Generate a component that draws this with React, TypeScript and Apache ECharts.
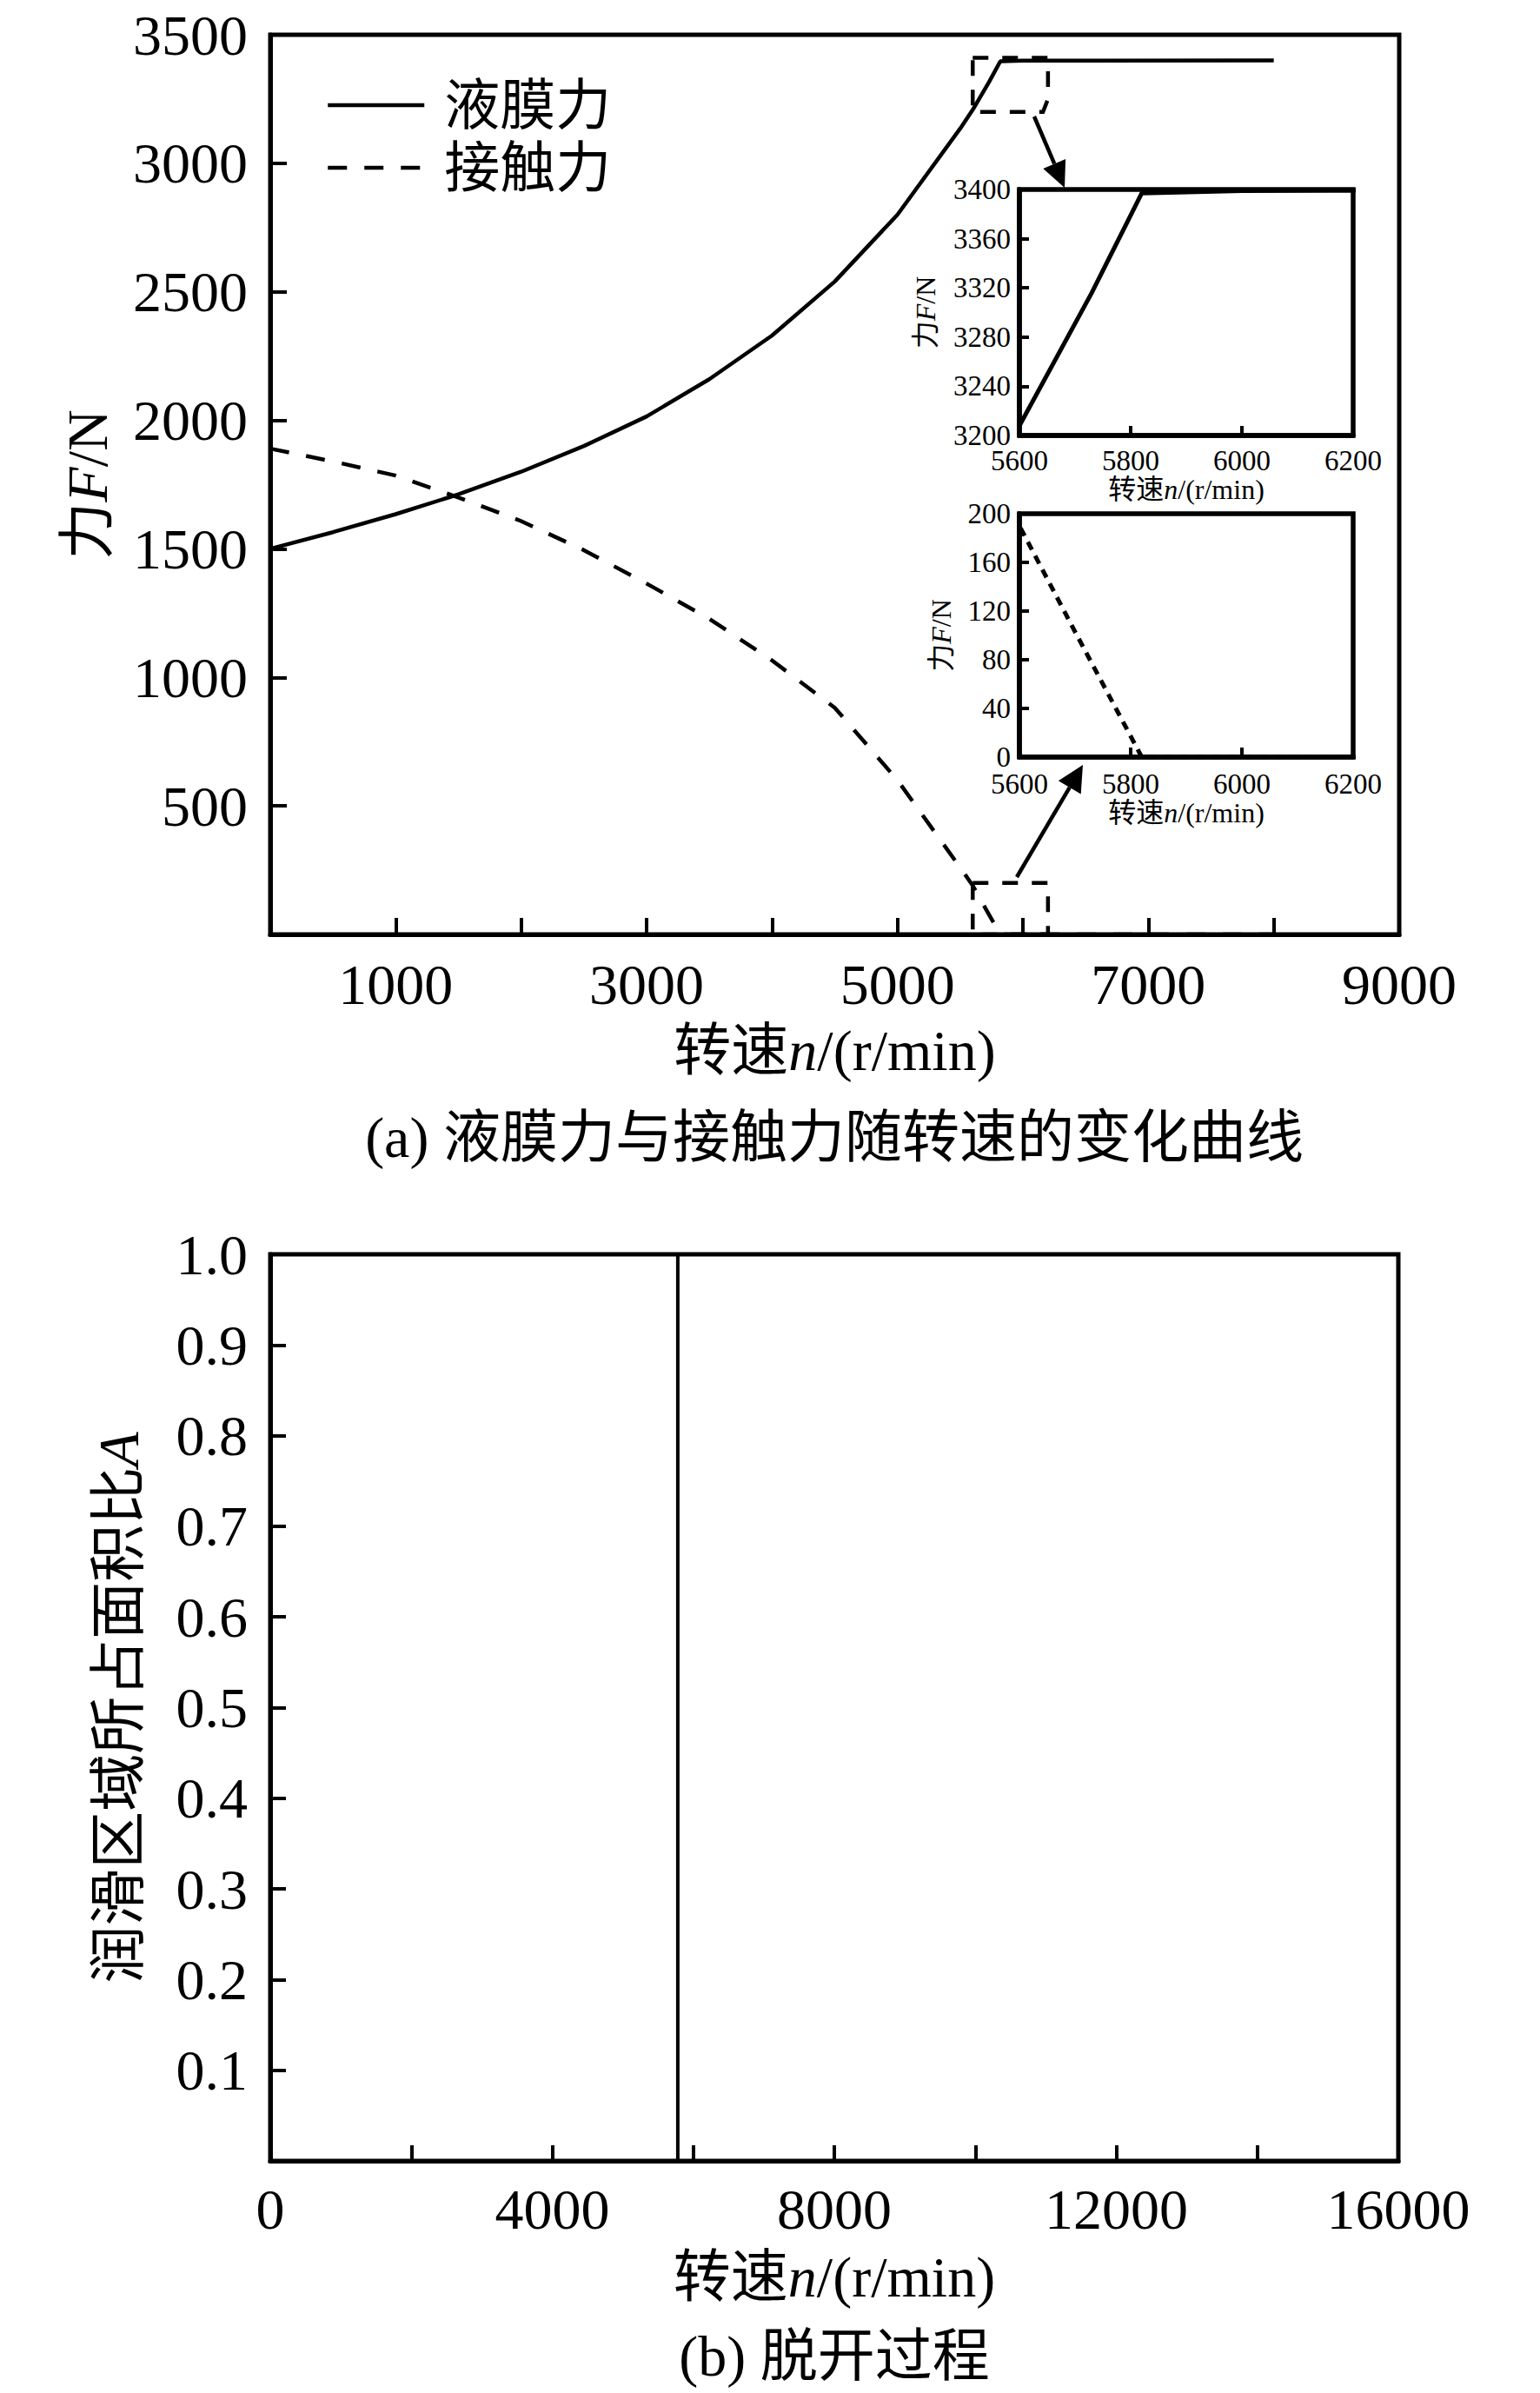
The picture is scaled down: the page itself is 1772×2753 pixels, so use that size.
import React, { useEffect, useRef } from "react";
import * as echarts from "echarts";

// ---- data ----
const filmSpeed = [0, 500, 1000, 1500, 2000, 2500, 3000, 3500, 4000, 4500, 5000, 5500, 5600, 5730, 5820, 6000, 8000];
const filmForce = [1500, 1565, 1635, 1712, 1800, 1900, 2015, 2160, 2330, 2540, 2800, 3135, 3208, 3316, 3397, 3399, 3400];
const contactSpeed = [0, 500, 1000, 1500, 2000, 2500, 3000, 3500, 4000, 4500, 5000, 5500, 5600, 5700, 5820, 6000, 8000];
const contactForce = [1890, 1840, 1785, 1700, 1608, 1495, 1365, 1228, 1066, 882, 600, 260, 190, 103, 0, 0, 0];
const areaSpeed = [0, 5780, 5780, 16000];
const areaRatio = [0, 0, 1, 1];

const legendNames = ["液膜力", "接触力"];
const captionA = "(a) 液膜力与接触力随转速的变化曲线";
const captionB = "(b) 脱开过程";
const speedName = ["转速", "n", "/(r/min)"];
const forceName = ["力", "F", "/N"];
const areaName = ["润滑区域所占面积比", "A"];

// zoom boxes in data coordinates (annotations)
const zoomBoxFilm = [[5600, 3410], [6200, 3410], [6200, 3250], [6160, 3200], [5600, 3200]];
const zoomBoxContact = [[5600, 200], [6200, 200], [6200, 0], [5600, 0]];

const SERIF = '"Liberation Serif", "Times New Roman", "Noto Sans CJK SC", serif';
const BIG = 66;
const SMALL = 33;

const zip = (a: number[], b: number[]) => a.map((v, i) => [v, b[i]]);

function richName(size: number) {
  return {
    c: { fontSize: size, fontFamily: SERIF, color: "#000" },
    i: { fontSize: size, fontFamily: SERIF, fontStyle: "italic", color: "#000" },
  };
}

function axisCommon(lineW: number, tickLen: number, tickW: number, labelSize: number, margin: number) {
  return {
    type: "value",
    axisLine: { show: true, onZero: false, lineStyle: { color: "#000", width: lineW } },
    axisTick: { show: true, inside: true, length: tickLen, lineStyle: { color: "#000", width: tickW } },
    axisLabel: { margin, fontSize: labelSize, fontFamily: SERIF, color: "#000", formatter: (v: number) => String(v) },
    splitLine: { show: false },
  };
}

function bigLabel(margin: number, formatter: (v: number) => string) {
  return { margin, fontSize: BIG, lineHeight: 54, fontFamily: SERIF, color: "#000", formatter };
}

function arrow(x1: number, y1: number, x2: number, y2: number, L: number, W: number) {
  const dx = x2 - x1;
  const dy = y2 - y1;
  const len = Math.sqrt(dx * dx + dy * dy);
  const ux = dx / len;
  const uy = dy / len;
  const bx = x2 - ux * L;
  const by = y2 - uy * L;
  const nx = -uy;
  const ny = ux;
  return [
    { type: "line", shape: { x1, y1, x2: bx, y2: by }, style: { stroke: "#000", lineWidth: 4.5 }, z: 100 },
    {
      type: "polygon",
      shape: { points: [[x2, y2], [bx + nx * W, by + ny * W], [bx - nx * W, by - ny * W]] },
      style: { fill: "#000" },
      z: 100,
    },
  ];
}

export default function App() {
  const ref = useRef<HTMLDivElement>(null);
  useEffect(() => {
    if (!ref.current) return;
    const chart = echarts.init(ref.current, null, { renderer: "svg" });
    const speedLabel = `{c|${speedName[0]}}{i|${speedName[1]}}{c|${speedName[2]}}`;
    const forceLabel = `{c|${forceName[0]}}{i|${forceName[1]}}{c|${forceName[2]}}`;
    const areaLabel = `{c|${areaName[0]}}{i|${areaName[1]}}`;

    const option: any = {
      animation: false,
      backgroundColor: "#fff",
      legend: {
        data: legendNames,
        orient: "vertical",
        left: 370,
        top: 84,
        itemWidth: 111,
        itemHeight: 2,
        itemGap: 8,
        itemStyle: { opacity: 0 },
        lineStyle: { width: 4.5 },
        textStyle: { fontSize: 64, lineHeight: 64, fontFamily: SERIF, color: "#000", padding: [0, 0, 0, 18] },
      },
      grid: [
        { left: 311, top: 40, width: 1299, height: 1035, show: true, borderColor: "#000", borderWidth: 5, backgroundColor: "transparent" },
        { left: 1173, top: 218, width: 384, height: 283, show: true, borderColor: "#000", borderWidth: 5.5, backgroundColor: "#fff" },
        { left: 1173, top: 591, width: 384, height: 280, show: true, borderColor: "#000", borderWidth: 5.5, backgroundColor: "#fff" },
        { left: 311, top: 1443, width: 1298, height: 1043, show: true, borderColor: "#000", borderWidth: 5, backgroundColor: "transparent" },
      ],
      xAxis: [
        {
          ...axisCommon(5, 19, 4, BIG, 24),
          gridIndex: 0, min: 0, max: 9000, interval: 1000,
          axisLabel: bigLabel(30, (v: number) => ((v / 1000) % 2 === 1 ? String(v) : "")),
          name: speedLabel, nameLocation: "middle", nameGap: 100,
          nameTextStyle: { fontSize: BIG, fontFamily: SERIF, rich: richName(BIG) },
        },
        {
          ...axisCommon(5.5, 11, 4, SMALL, 12),
          gridIndex: 1, min: 5600, max: 6200, interval: 200,
          name: speedLabel, nameLocation: "middle", nameGap: 40,
          nameTextStyle: { fontSize: 32, fontFamily: SERIF, rich: richName(32) },
        },
        {
          ...axisCommon(5.5, 11, 4, SMALL, 14),
          gridIndex: 2, min: 5600, max: 6200, interval: 200,
          name: speedLabel, nameLocation: "middle", nameGap: 44,
          nameTextStyle: { fontSize: 32, fontFamily: SERIF, rich: richName(32) },
        },
        {
          ...axisCommon(5, 18, 4, BIG, 22),
          gridIndex: 3, min: 0, max: 16000, interval: 2000,
          axisLabel: bigLabel(28, (v: number) => (v % 4000 === 0 ? String(v) : "")),
          name: speedLabel, nameLocation: "middle", nameGap: 100,
          nameTextStyle: { fontSize: BIG, fontFamily: SERIF, rich: richName(BIG) },
        },
      ],
      yAxis: [
        {
          ...axisCommon(5, 19, 4, BIG, 26),
          gridIndex: 0, min: 0, max: 3500, interval: 500,
          axisLabel: bigLabel(26, (v: number) => (v === 0 ? "" : String(v))),
          name: forceLabel, nameLocation: "middle", nameGap: 178,
          nameTextStyle: { fontSize: BIG, fontFamily: SERIF, rich: richName(BIG) },
        },
        {
          ...axisCommon(5.5, 11, 4, SMALL, 10),
          gridIndex: 1, min: 3200, max: 3400, interval: 40,
          name: forceLabel, nameLocation: "middle", nameGap: 92,
          nameTextStyle: { fontSize: 32, fontFamily: SERIF, rich: richName(32) },
        },
        {
          ...axisCommon(5.5, 11, 4, SMALL, 10),
          gridIndex: 2, min: 0, max: 200, interval: 40,
          name: forceLabel, nameLocation: "middle", nameGap: 74,
          nameTextStyle: { fontSize: 32, fontFamily: SERIF, rich: richName(32) },
        },
        {
          ...axisCommon(5, 18, 4, BIG, 26),
          gridIndex: 3, min: 0, max: 1, interval: 0.1,
          axisLabel: bigLabel(26, (v: number) => (v === 0 ? "" : v.toFixed(1))),
          name: areaLabel, nameLocation: "middle", nameGap: 142,
          nameTextStyle: { fontSize: BIG, fontFamily: SERIF, rich: richName(BIG) },
        },
      ],
      series: [
        {
          name: legendNames[0], type: "line", xAxisIndex: 0, yAxisIndex: 0, symbol: "none",
          data: zip(filmSpeed, filmForce), lineStyle: { color: "#000", width: 4.5, type: "solid" }, itemStyle: { color: "#000" },
        },
        {
          name: legendNames[1], type: "line", xAxisIndex: 0, yAxisIndex: 0, symbol: "none",
          data: zip(contactSpeed, contactForce), lineStyle: { color: "#000", width: 4.5, type: [22, 20] }, itemStyle: { color: "#000" },
        },
        {
          name: legendNames[0], type: "line", xAxisIndex: 1, yAxisIndex: 1, symbol: "none", clip: true,
          data: zip(filmSpeed, filmForce), lineStyle: { color: "#000", width: 5, type: "solid" }, itemStyle: { color: "#000" },
        },
        {
          name: legendNames[1], type: "line", xAxisIndex: 2, yAxisIndex: 2, symbol: "none", clip: true,
          data: zip(contactSpeed, contactForce), lineStyle: { color: "#000", width: 5, type: [10, 8] }, itemStyle: { color: "#000" },
        },
        {
          name: areaName.join(""), type: "line", xAxisIndex: 3, yAxisIndex: 3, symbol: "none", clip: false,
          data: zip(areaSpeed, areaRatio), lineStyle: { color: "#000", width: 4, type: "solid" }, itemStyle: { color: "#000" },
        },
      ],
    };
    chart.setOption(option);

    const toPx = (pts: number[][]) => pts.map((p) => chart.convertToPixel({ gridIndex: 0 }, p) as number[]);
    const box = (pts: number[][]) => ({
      type: "polygon",
      shape: { points: toPx(pts) },
      style: { fill: "none", stroke: "#000", lineWidth: 4.5, lineDash: [18, 16] },
      z: 100,
    });
    const caption = (text: string, y: number) => ({
      type: "text",
      x: 960,
      y,
      style: { text, fontSize: BIG, fontFamily: SERIF, fill: "#000", align: "center", verticalAlign: "middle" },
      z: 100,
    });
    chart.setOption({
      graphic: [
        box(zoomBoxFilm),
        box(zoomBoxContact),
        ...arrow(1190, 134, 1225, 216, 30, 14),
        ...arrow(1170, 1009, 1246, 880, 30, 15),
        caption(captionA, 1308),
        caption(captionB, 2710),
      ],
    });

    return () => chart.dispose();
  }, []);
  return <div ref={ref} style={{ position: "absolute", left: 0, top: 0, width: 1772, height: 2753, background: "#fff" }} />;
}
